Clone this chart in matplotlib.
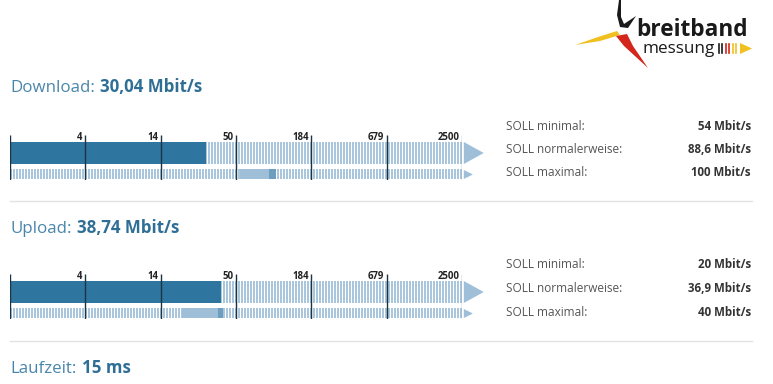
import numpy as np
import matplotlib
matplotlib.use("Agg")
import matplotlib.pyplot as plt
from matplotlib.patches import Polygon
import matplotlib.transforms as mtransforms

# measured values and contract values (Mbit/s)
directions = ["Download", "Upload"]
measured = [30.04, 38.74]
soll_min = [54, 20]
soll_normal = [88.6, 36.9]
soll_max = [100, 40]
soll_names = ["SOLL minimal:", "SOLL normalerweise:", "SOLL maximal:"]
scale_ticks = [0, 4, 14, 50, 184, 679, 2500]
latency_ms = 15

W, H = 773, 384
BAR_DARK = "#2e76a0"
STRIPE = "#a9c6dc"
RANGE_LIGHT = "#9ebfd7"
RANGE_DARK = "#6d9ec0"
TITLE = "#4a86ab"
TITLE_BOLD = "#2f6f96"
GREY_TXT = "#555555"

plt.rcParams["font.family"] = ["Open Sans", "DejaVu Sans"]

log_t = np.log(scale_ticks[1:])
idx = np.arange(len(log_t))


def fwd(v):
    v = np.asarray(v, dtype=float)
    lv = np.log(np.maximum(v, 1e-9))
    # extrapolate linearly in log space past the last tick
    seg = np.interp(lv, log_t, idx)
    slope = 1.0 / (log_t[-1] - log_t[-2])
    seg = np.where(lv > log_t[-1], idx[-1] + (lv - log_t[-1]) * slope, seg)
    return np.where(v <= 4, v / 4.0, 1 + seg)


def inv(p):
    p = np.asarray(p, dtype=float)
    return np.where(p <= 1, 4 * p, np.exp(np.interp(p - 1, idx, log_t)))


fig = plt.figure(figsize=(W / 100, H / 100), dpi=100)
over = fig.add_axes([0, 0, 1, 1])
over.set_xlim(0, W)
over.set_ylim(H, 0)
over.axis("off")


def px_axes(x0, y0, w, h):
    return fig.add_axes([x0 / W, 1 - (y0 + h) / H, w / W, h / H])


def de(v):
    return f"{v:g}".replace(".", ",")


def title(y, label, value):
    t = over.text(10, y, label, fontsize=12.2, color=TITLE, va="center", ha="left")
    over.annotate(value, xy=(1, 0), xycoords=t, xytext=(4, 0),
                  textcoords="offset points", fontsize=12.2, color=TITLE_BOLD,
                  fontweight="bold", va="bottom", ha="left")


def speed_block(i, top):
    ax = px_axes(10, top, 452, 45)
    ax.set_xscale("function", functions=(fwd, inv))
    ax.set_xlim(0, 2500)
    ax.set_ylim(45, 0)
    ax.axis("off")
    blend = mtransforms.blended_transform_factory(ax.transAxes, ax.transData)
    xs = np.arange(1, 452, 3) / 452
    ax.vlines(xs, 7, 29, color=STRIPE, lw=1.2, transform=blend, antialiased=False)
    ax.vlines(xs, 34, 44, color=STRIPE, lw=1.2, transform=blend, antialiased=False)
    ax.barh(18, measured[i], left=0, height=22, color=BAR_DARK, zorder=3)
    ax.barh(39, soll_normal[i] - soll_min[i], left=soll_min[i], height=10,
            color=RANGE_LIGHT, zorder=3)
    ax.barh(39, soll_max[i] - soll_normal[i], left=soll_normal[i], height=10,
            color=RANGE_DARK, zorder=3)
    for k, t in enumerate(scale_ticks):
        c = "#8a9aa8" if k == len(scale_ticks) - 1 else "#1c3346"
        ax.vlines(t, 0, 45, color=c, lw=1, zorder=4)
        if t > 0:
            ax.annotate(str(t), xy=(t, 2.5), xytext=(-2, 0), textcoords="offset points",
                        fontsize=6.9, fontweight="bold", color="#222222",
                        ha="right", va="center")
    ax.add_patch(Polygon([(1.004, 7), (1.048, 18), (1.004, 29)], closed=True,
                         color=RANGE_LIGHT, transform=blend, clip_on=False, lw=0))
    ax.add_patch(Polygon([(1.004, 35), (1.024, 39.5), (1.004, 44)], closed=True,
                         color=RANGE_LIGHT, transform=blend, clip_on=False, lw=0))
    vals = [soll_min[i], soll_normal[i], soll_max[i]]
    for k, (name, v) in enumerate(zip(soll_names, vals)):
        y = top - 9 + k * 23.5
        over.text(506, y, name, fontsize=8.5, color=GREY_TXT, va="center", ha="left")
        over.text(751, y, f"{de(v)} Mbit/s", fontsize=8.3, color="#333333",
                  fontweight="bold", va="center", ha="right")


title(88, "Download:", f"{measured[0]:.2f} Mbit/s".replace(".", ","))
speed_block(0, 135)
over.plot([10, 752], [201, 201], color="#e3e3e3", lw=1)

title(229, "Upload:", f"{measured[1]:.2f} Mbit/s".replace(".", ","))
speed_block(1, 274)
over.plot([10, 752], [341, 341], color="#e3e3e3", lw=1)

title(369, "Laufzeit:", f"{latency_ms} ms")

# logo
over.add_patch(Polygon([(575, 45), (598, 37), (617, 31), (620, 35), (600, 41)],
                       color="#f0c020", lw=0))
over.add_patch(Polygon([(616, 36), (627, 34), (633, 46), (648, 68), (624, 46)],
                       color="#d3261c", lw=0))
over.add_patch(Polygon([(619, 0), (621, 0), (621, 17), (624, 24), (636, 16),
                        (628, 28), (620, 27), (617, 15)], color="#1a1a1a", lw=0))
over.text(636, 36, "breitband", fontsize=16.3, fontweight="bold", color="#1a1a1a",
          va="baseline", ha="left")
over.text(643, 53, "messung", fontsize=12.3, color="#1a1a1a", va="baseline", ha="left")
for bx, bc in zip([719, 722, 726, 729, 733, 736],
                  ["#1a1a1a", "#1a1a1a", "#d3261c", "#d3261c", "#f0c020", "#f0c020"]):
    over.plot([bx, bx], [44, 53], color=bc, lw=1.2)
over.add_patch(Polygon([(740, 43), (752, 48.5), (740, 54)], color="#f0c020", lw=0))

fig.savefig("out.png", dpi=100)
